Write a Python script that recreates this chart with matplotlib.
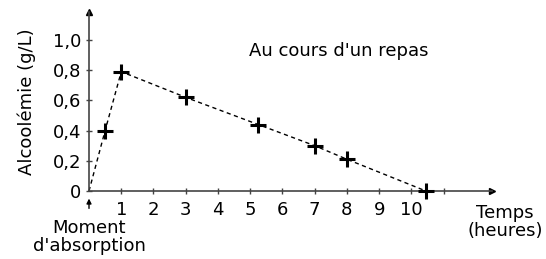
import matplotlib
matplotlib.use("Agg")
import matplotlib.pyplot as plt

params = {
    "font.size": 13,
    "font.family": "DejaVu Sans",
}
matplotlib.rcParams.update(params)

## Data
temps = [0, 0.5, 1, 3, 5.25, 7, 8, 10.45]
alcool = [0, 0.40, 0.79, 0.62, 0.44, 0.30, 0.21, 0.0]
mesures_t = temps[1:]
mesures_a = alcool[1:]

x_ticks = [1, 2, 3, 4, 5, 6, 7, 8, 9, 10, 11]
x_labels = ["1", "2", "3", "4", "5", "6", "7", "8", "9", "10", ""]
y_ticks = [0, 0.2, 0.4, 0.6, 0.8, 1.0]
y_labels = ["0", "0,2", "0,4", "0,6", "0,8", "1,0"]

W, H = 546, 259
fig = plt.figure(figsize=(W / 100, H / 100), dpi=100)
ax = fig.add_axes([89 / W, 1 - 191 / H, (492 - 89) / W, (191 - 12) / H])

ax.set_xlim(0, 12.5)
ax.set_ylim(0, 1.185)

for s in ["top", "right"]:
    ax.spines[s].set_visible(False)
for s in ["left", "bottom"]:
    ax.spines[s].set_color("#444444")
    ax.spines[s].set_linewidth(1.2)

## axis arrows
ax.plot(1, 0, ">", color="black", ms=5, transform=ax.get_yaxis_transform(), clip_on=False)
ax.plot(0, 1, "^", color="black", ms=5, transform=ax.get_xaxis_transform(), clip_on=False)

ax.set_xticks(x_ticks)
ax.set_xticklabels(x_labels)
ax.set_yticks(y_ticks)
ax.set_yticklabels(y_labels)
ax.tick_params(direction="inout", length=5, width=1, color="#444444", pad=3)
ax.tick_params(axis="x", pad=5)

ax.plot(temps, alcool, color="black", lw=1, ls=(0, (3, 2.5)), clip_on=False)
ax.plot(mesures_t, mesures_a, "+", color="black", ms=11, mew=2.2, clip_on=False, zorder=5)

ax.set_ylabel("Alcoolémie (g/L)", labelpad=12)
ax.text(7.76, 0.93, "Au cours d'un repas", ha="center", va="center")

ax.text(12.9, -0.205, "Temps\n(heures)", ha="center", va="center", linespacing=1.05, clip_on=False)
ax.text(0, -0.185, "Moment\nd'absorption", ha="center", va="top", linespacing=1.0, clip_on=False)
ax.annotate("", xy=(0, -0.05), xytext=(0, -0.115),
            arrowprops=dict(arrowstyle="-|>", color="black", lw=1, mutation_scale=7,
                            shrinkA=0, shrinkB=0),
            annotation_clip=False)

plt.savefig("out.png", dpi=100)
